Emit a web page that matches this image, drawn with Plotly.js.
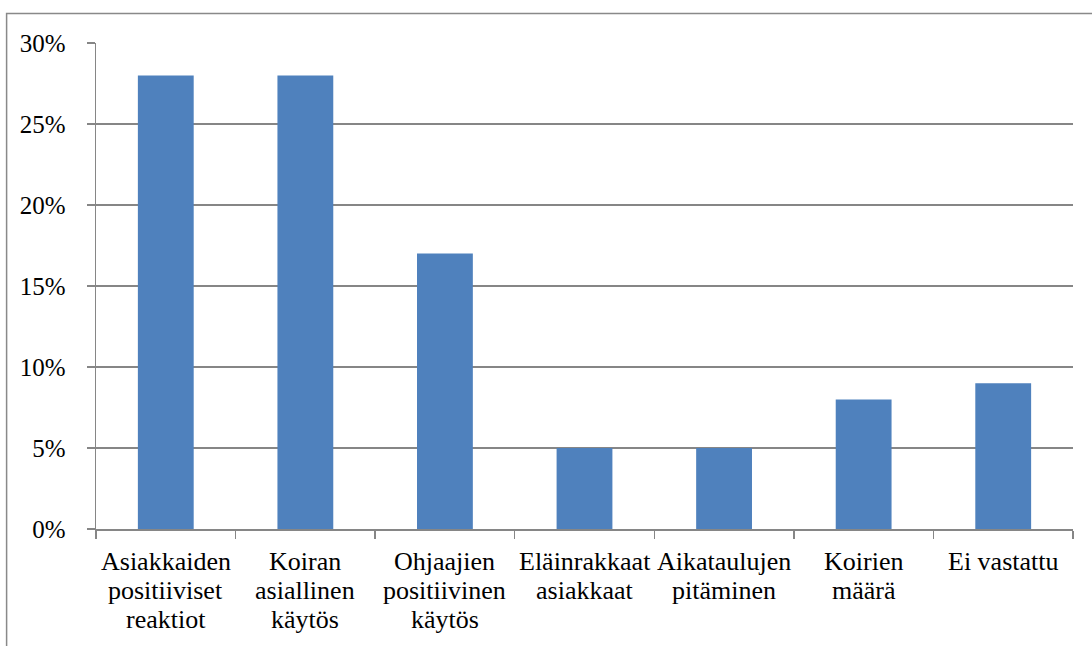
<!DOCTYPE html>
<html>
<head>
<meta charset="utf-8">
<script src="https://cdn.plot.ly/plotly-3.0.1.min.js"></script>
<style>
  html, body { margin: 0; padding: 0; background: #ffffff; }
  #chart { width: 1092px; height: 646px; }
  #chart text { font-family: 'Liberation Serif', 'Times New Roman', serif !important; }
</style>
</head>
<body>
<div id="chart"></div>
<script>
// Data
const tickLabels = [
  'Asiakkaiden\npositiiviset\nreaktiot',
  'Koiran\nasiallinen\nkäytös',
  'Ohjaajien\npositiivinen\nkäytös',
  'Eläinrakkaat\nasiakkaat',
  'Aikataulujen\npitäminen',
  'Koirien\nmäärä',
  'Ei vastattu'
];
const categories = tickLabels.map(s => s.replace(/\n/g, ' '));
const values = [28, 28, 17, 5, 5, 8, 9];   // percent
const yTicks = [0, 5, 10, 15, 20, 25, 30];

const FONT = 'serif';
const GRID = '#868686';

const trace = {
  type: 'bar',
  x: categories,
  y: values,
  marker: { color: '#4F81BD', line: { width: 0 } },
  hoverinfo: 'none'
};

const annotations = [];
tickLabels.forEach((lbl, i) => {
  lbl.split('\n').forEach((line, j) => {
    annotations.push({
      x: categories[i], y: 0, xref: 'x', yref: 'paper',
      yanchor: 'top', xanchor: 'center',
      yshift: -(16 + j * 29),
      text: line, showarrow: false,
      font: { family: FONT, size: 26, color: '#000000' }
    });
  });
});

const layout = {
  width: 1092, height: 646,
  margin: { l: 96, r: 19, t: 43, b: 117, pad: 0 },
  paper_bgcolor: '#ffffff', plot_bgcolor: '#ffffff',
  showlegend: false,
  bargap: 0.6,
  font: { family: FONT, size: 25, color: '#000000' },
  xaxis: {
    type: 'category',
    showticklabels: false,
    ticks: 'outside', ticklen: 8, tickwidth: 1.5, tickcolor: GRID,
    tickson: 'boundaries',
    showline: true, linecolor: GRID, linewidth: 1.5,
    showgrid: false, zeroline: false
  },
  yaxis: {
    range: [0, 30],
    tickvals: yTicks,
    ticktext: yTicks.map(v => v + '%'),
    ticks: 'outside', ticklen: 8, tickwidth: 1.5, tickcolor: GRID,
    ticklabelstandoff: 16,
    tickfont: { family: FONT, size: 25, color: '#000000' },
    showline: true, linecolor: GRID, linewidth: 1.5,
    showgrid: true, gridcolor: GRID, gridwidth: 1.2,
    zeroline: false
  },
  shapes: [{
    type: 'rect', xref: 'paper', yref: 'paper',
    x0: -0.0915, x1: 1.05, y0: -0.3, y1: 1.0607,
    line: { color: '#898989', width: 1.5 }, fillcolor: 'rgba(0,0,0,0)',
    layer: 'below'
  }],
  annotations: annotations
};

Plotly.newPlot('chart', [trace], layout, { displayModeBar: false, staticPlot: true }).then(gd => {
  gd.querySelectorAll('text').forEach(t => {
    t.style.setProperty('font-family', "'Liberation Serif', serif", 'important');
  });
});
</script>
</body>
</html>
